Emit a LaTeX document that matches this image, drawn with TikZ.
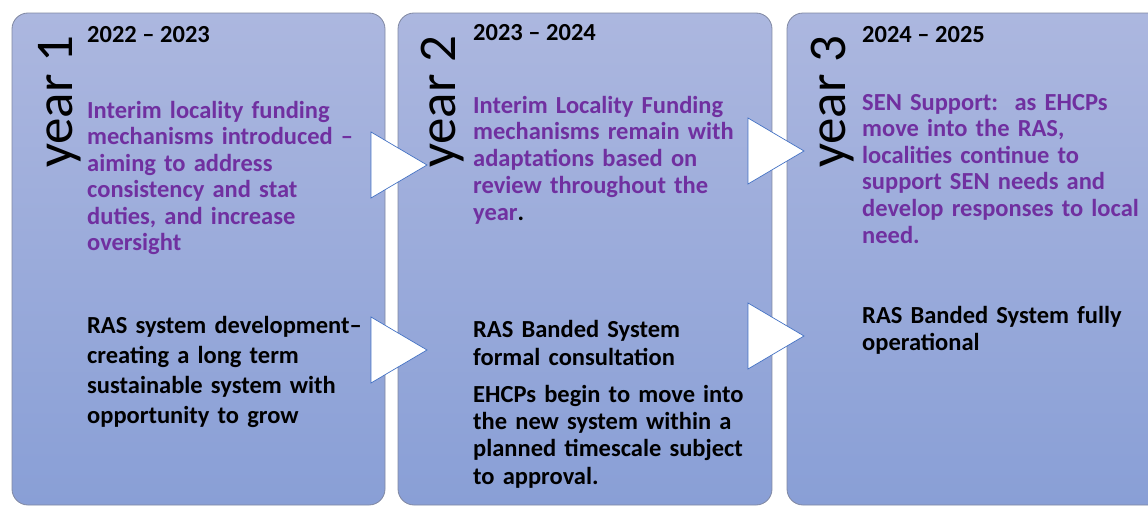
\documentclass[tikz,border=0pt]{standalone}
\usepackage{fontspec}
\setmainfont{Carlito}
\definecolor{panelTop}{RGB}{172,183,223}
\definecolor{panelBot}{RGB}{137,159,214}
\definecolor{panelEdge}{RGB}{128,136,162}
\definecolor{fundPurple}{RGB}{112,48,160}
\definecolor{triEdge}{RGB}{68,114,196}
\tikzset{
  panel/.style={rounded corners=16pt, top color=panelTop, bottom color=panelBot, draw=panelEdge, line width=0.8pt},
  yearlabel/.style={rotate=90, anchor=base west, inner sep=0pt, font=\fontsize{53}{60}\selectfont},
  period/.style={anchor=base west, inner sep=0pt, font=\fontsize{24.5}{27}\selectfont\bfseries},
  plan/.style={anchor=base west, inner sep=0pt, align=left, text width=320pt, font=\fontsize{24.5}{#1}\selectfont\bfseries},
  plan/.default=27,
  arrowtri/.style={fill=white, draw=triEdge, line width=0.7pt, line join=miter},
}
\begin{document}
\begin{tikzpicture}[x=1pt,y=-1pt]
            \useasboundingbox (0,0) rectangle (1148,506);
            % year panels
            \shadedraw[panel] (12,13) rectangle (385,505);
            \shadedraw[panel] (398,13) rectangle (772,505);
            \shadedraw[panel] (787,13) rectangle (1165,505);
            % arrows between the years
            \foreach \x/\y in {371/132, 371/317, 748/118, 748/303}
                \filldraw[arrowtri] (\x,\y) -- ++(56,33) -- ++(-56,33) -- cycle;
            % year 1
            \node[yearlabel] (yearA) at (72,168) {year 1};
            \node[period] (periodA) at (87,42) {2022 – 2023};
            \node[plan=26.5, text=fundPurple] (fundA) at (87,118) {Interim locality funding\\mechanisms introduced –\\aiming to address\\consistency and stat\\duties, and increase\\oversight};
            \node[plan=30] (rasA) at (87,333) {RAS system development–\\creating a long term\\sustainable system with\\opportunity to grow};
            % year 2
            \node[yearlabel] (yearB) at (455,168) {year 2};
            \node[period] (periodB) at (473,40) {2023 – 2024};
            \node[plan=26.8, text=fundPurple] (fundB) at (473,113) {Interim Locality Funding\\mechanisms remain with\\adaptations based on\\review throughout the\\year\textcolor{black}{.}};
            \node[plan=28] (rasB) at (473,337) {RAS Banded System\\formal consultation};
            \node[plan=27.4] (ehcpB) at (473,402) {EHCPs begin to move into\\the new system within a\\planned timescale subject\\to approval.};
            % year 3
            \node[yearlabel] (yearC) at (845,168) {year 3};
            \node[period] (periodC) at (862,42) {2024 – 2025};
            \node[plan=26.6, text=fundPurple] (fundC) at (862,110) {SEN Support:\ \ as EHCPs\\move into the RAS,\\localities continue to\\support SEN needs and\\develop responses to local\\need.};
            \node[plan=27] (rasC) at (862,323) {RAS Banded System fully\\operational};
        \end{tikzpicture}
\end{document}
